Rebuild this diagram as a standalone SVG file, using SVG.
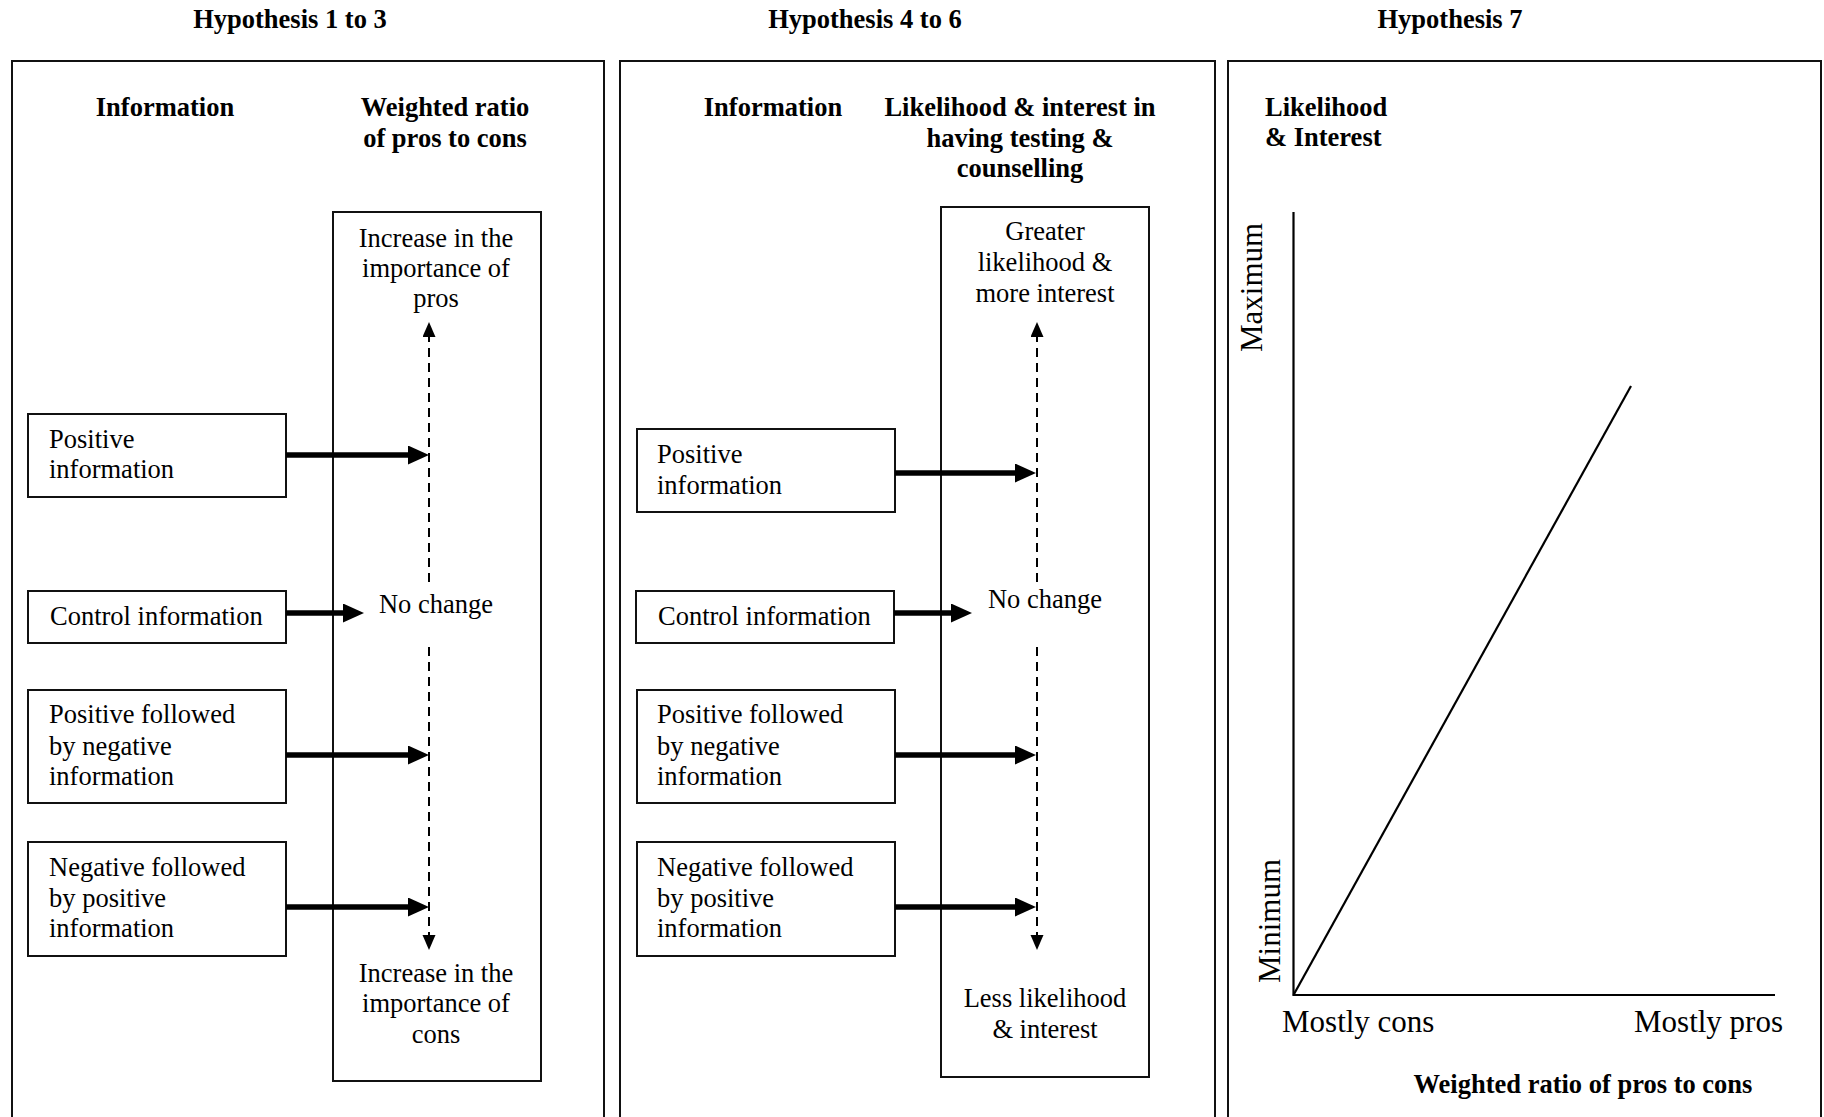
<svg xmlns="http://www.w3.org/2000/svg" width="1824" height="1117" viewBox="0 0 1824 1117">
<style>
text{font-family:"Liberation Serif","Times New Roman",serif;font-size:26.5px;fill:#000}
.b{font-weight:bold}
.c{text-anchor:middle}
.big{font-size:31px}
.frame{fill:none;stroke:#111;stroke-width:2}
.box{fill:#fff;stroke:#111;stroke-width:2}
.thick{fill:none;stroke:#000;stroke-width:5.5}
.dash{fill:none;stroke:#000;stroke-width:2;stroke-dasharray:9 6}
.axis{fill:none;stroke:#000;stroke-width:2.2}
</style>
<defs>
<marker id="big" markerUnits="userSpaceOnUse" markerWidth="22" markerHeight="20" refX="0" refY="9.5" orient="auto" viewBox="0 0 22 20"><path d="M0,0 L21,9.5 L0,19 z" fill="#000"/></marker>
<marker id="small" markerUnits="userSpaceOnUse" markerWidth="16" markerHeight="14" refX="0" refY="6.5" orient="auto" viewBox="0 0 16 14"><path d="M0,0 L15,6.5 L0,13 z" fill="#000"/></marker>
</defs>
<rect width="1824" height="1117" fill="#fff"/>

<g id="panel1">
<text class="b c" x="290" y="28">Hypothesis 1 to 3</text>
<rect class="frame" x="12" y="61" width="592" height="1080"/>
<text class="b c" x="165" y="116">Information</text>
<text class="b c" x="445" y="116">Weighted ratio</text>
<text class="b c" x="445" y="147">of pros to cons</text>
</g>
<g id="p1-outcome">
<rect class="box" x="333" y="212" width="208" height="869"/>
<text class="c" x="436" y="247">Increase in the</text>
<text class="c" x="436" y="277">importance of</text>
<text class="c" x="436" y="307">pros</text>
<text class="c" x="436" y="613">No change</text>
<text class="c" x="436" y="982">Increase in the</text>
<text class="c" x="436" y="1012">importance of</text>
<text class="c" x="436" y="1043">cons</text>
</g>
<g id="p1-pos">
<rect class="box" x="28" y="414" width="258" height="83"/>
<text x="49" y="448">Positive</text>
<text x="49" y="478">information</text>
</g>
<g id="p1-ctrl">
<rect class="box" x="28" y="591" width="258" height="52"/>
<text x="50" y="625">Control information</text>
</g>
<g id="p1-posneg">
<rect class="box" x="28" y="690" width="258" height="113"/>
<text x="49" y="723">Positive followed</text>
<text x="49" y="755">by negative</text>
<text x="49" y="785">information</text>
</g>
<g id="p1-negpos">
<rect class="box" x="28" y="842" width="258" height="114"/>
<text x="49" y="876">Negative followed</text>
<text x="49" y="907">by positive</text>
<text x="49" y="937">information</text>
</g>

<g id="panel2">
<text class="b c" x="865" y="28">Hypothesis 4 to 6</text>
<rect class="frame" x="620" y="61" width="595" height="1080"/>
<text class="b c" x="773" y="116">Information</text>
<text class="b c" x="1020" y="116">Likelihood &amp; interest in</text>
<text class="b c" x="1020" y="147">having testing &amp;</text>
<text class="b c" x="1020" y="177">counselling</text>
</g>
<g id="p2-outcome">
<rect class="box" x="941" y="207" width="208" height="870"/>
<text class="c" x="1045" y="240">Greater</text>
<text class="c" x="1045" y="271">likelihood &amp;</text>
<text class="c" x="1045" y="302">more interest</text>
<text class="c" x="1045" y="608">No change</text>
<text class="c" x="1045" y="1007">Less likelihood</text>
<text class="c" x="1045" y="1038">&amp; interest</text>
</g>
<g id="p2-pos">
<rect class="box" x="637" y="429" width="258" height="83"/>
<text x="657" y="463">Positive</text>
<text x="657" y="494">information</text>
</g>
<g id="p2-ctrl">
<rect class="box" x="636" y="591" width="258" height="52"/>
<text x="658" y="625">Control information</text>
</g>
<g id="p2-posneg">
<rect class="box" x="637" y="690" width="258" height="113"/>
<text x="657" y="723">Positive followed</text>
<text x="657" y="755">by negative</text>
<text x="657" y="785">information</text>
</g>
<g id="p2-negpos">
<rect class="box" x="637" y="842" width="258" height="114"/>
<text x="657" y="876">Negative followed</text>
<text x="657" y="907">by positive</text>
<text x="657" y="937">information</text>
</g>

<g id="panel3">
<text class="b c" x="1450" y="28">Hypothesis 7</text>
<rect class="frame" x="1228" y="61" width="593" height="1080"/>
<text class="b" x="1265" y="116">Likelihood</text>
<text class="b" x="1265" y="146">&amp; Interest</text>
<text class="big" transform="translate(1262,352) rotate(-90)">Maximum</text>
<text class="big" transform="translate(1280,983) rotate(-90)">Minimum</text>
<path class="axis" d="M1293.5,212 V995 H1775"/>
<path class="axis" d="M1293.5,995 L1631,386" stroke-width="2"/>
<text class="big" x="1282" y="1032">Mostly cons</text>
<text class="big" x="1634" y="1032">Mostly pros</text>
<text class="b c" x="1583" y="1093">Weighted ratio of pros to cons</text>
</g>

<g id="connectors">
<path class="thick" d="M286,455 H408" marker-end="url(#big)"/>
<path class="thick" d="M286,613 H343" marker-end="url(#big)"/>
<path class="thick" d="M286,755 H408" marker-end="url(#big)"/>
<path class="thick" d="M286,907 H408" marker-end="url(#big)"/>
<path class="dash" d="M429,582 V337" marker-end="url(#small)"/>
<path class="dash" d="M429,647 V935" marker-end="url(#small)"/>

<path class="thick" d="M895,473 H1015" marker-end="url(#big)"/>
<path class="thick" d="M894,613 H951" marker-end="url(#big)"/>
<path class="thick" d="M895,755 H1015" marker-end="url(#big)"/>
<path class="thick" d="M895,907 H1015" marker-end="url(#big)"/>
<path class="dash" d="M1037,582 V337" marker-end="url(#small)"/>
<path class="dash" d="M1037,647 V935" marker-end="url(#small)"/>
</g>
</svg>
